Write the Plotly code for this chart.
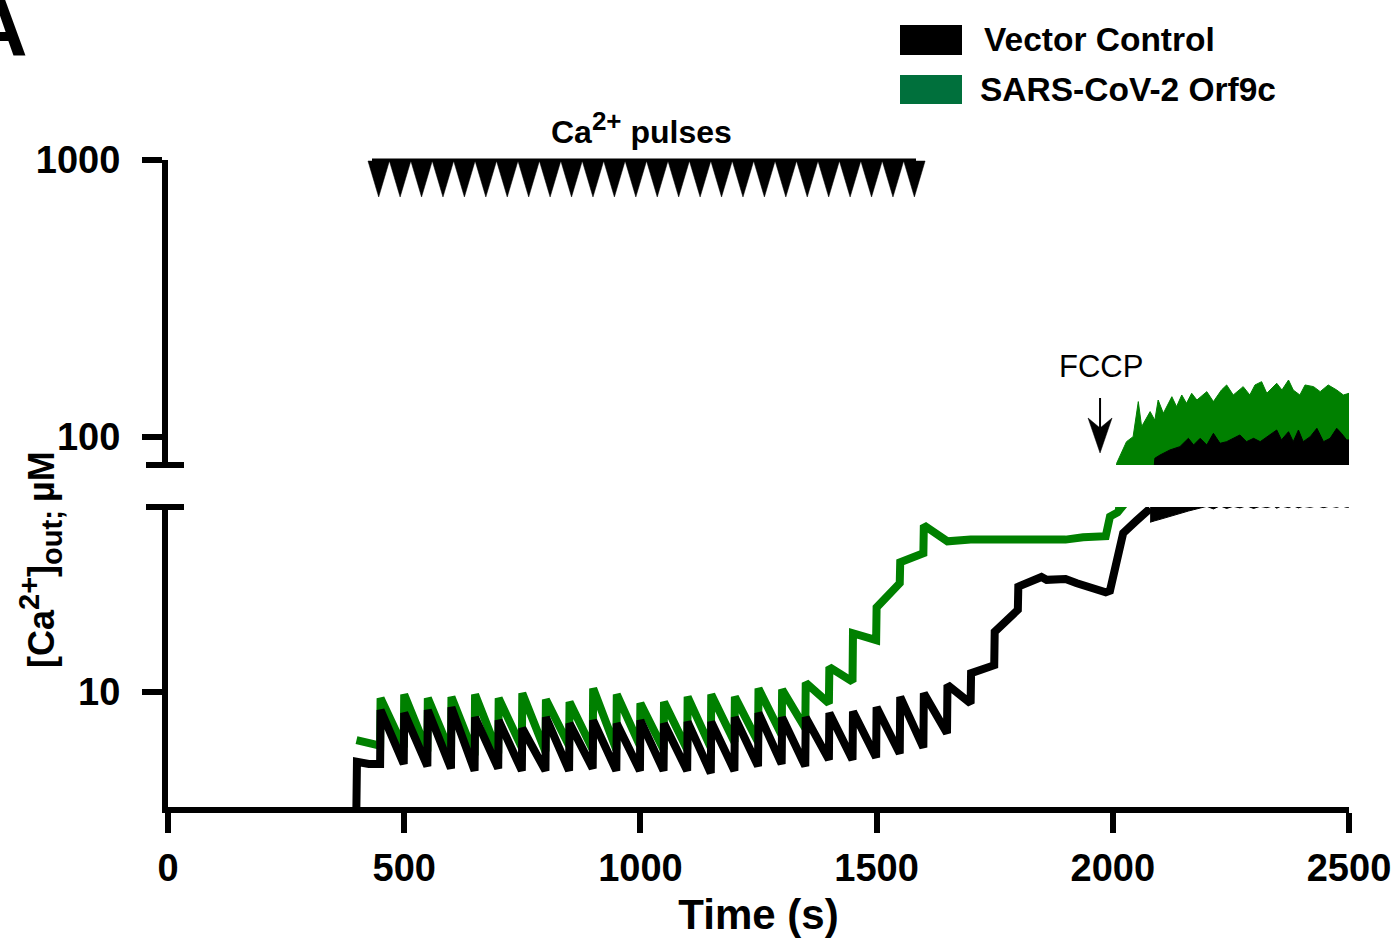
import plotly.graph_objects as go

# ---------------------------------------------------------------------------
# Extracellular Ca2+ traces (µM) during repeated Ca2+ pulses and after FCCP
# ---------------------------------------------------------------------------
pulse_t = [450, 500, 550, 600, 650, 700, 750, 800, 850, 900, 950, 1000, 1050, 1100,
           1150, 1200, 1250, 1300, 1350, 1400, 1450, 1500, 1550, 1600, 1650, 1700,
           1750, 1800]

# level right after each pulse / level just before the following pulse
vc_peak = [8.6, 8.4, 8.6, 8.8, 8.1, 7.9, 7.4, 8.1, 7.7, 7.9, 7.7, 7.9, 7.7, 7.8,
           7.8, 8.1, 8.4, 8.1, 8.1, 8.4, 8.5, 8.8, 9.6, 9.9, 10.6, 11.7, 16.5, 24.0]
vc_trough = [5.5, 5.4, 5.3, 5.2, 5.3, 5.2, 5.2, 5.2, 5.3, 5.2, 5.2, 5.2, 5.2, 5.1,
             5.2, 5.4, 5.5, 5.4, 5.7, 5.7, 5.8, 6.0, 6.3, 7.1, 9.1, 12.5, 19.8, 26.0]
orf_peak = [9.5, 9.8, 9.5, 9.6, 9.8, 9.5, 9.9, 9.4, 9.2, 10.3, 9.8, 9.1, 9.2, 9.6,
            9.8, 9.6, 10.3, 10.2, 10.8, 12.3, 16.3, 20.2, 29.4, 40.0, 35.0, 35.5,
            35.5, 35.8]
orf_trough = [6.3, 6.1, 6.0, 5.9, 6.0, 6.3, 6.1, 6.4, 6.2, 6.2, 6.4, 6.2, 6.2, 6.3,
              6.6, 6.6, 7.0, 7.4, 9.1, 10.9, 15.4, 24.7, 31.7, 35.0, 35.5, 35.5,
              35.8, 36.0]

# baseline before the first pulse
vc_pre_t = [398, 400, 425, 449]
vc_pre = [3.0, 5.6, 5.5, 5.5]
orf_pre_t = [399, 420, 449]
orf_pre = [6.7, 6.6, 6.4]

# after the last pulse, up to FCCP addition
vc_tail_t = [1860, 1900, 1924, 1960, 1985, 1994, 2005, 2022, 2051, 2079]
vc_tail = [25.4, 25.6, 24.7, 23.8, 22.9, 23.2, 28.2, 37.5, 41.7, 46.0]
orf_tail_t = [1850, 1900, 1937, 1985, 1994, 2010, 2030]
orf_tail = [35.8, 35.5, 36.2, 36.5, 43.0, 44.5, 49.0]

# post-FCCP noisy release: lower / upper envelope
vc_band_t = [2079, 2089, 2100, 2121, 2142, 2160, 2171, 2185, 2199, 2213, 2227, 2241,
             2255, 2269, 2283, 2298, 2312, 2326, 2340, 2347, 2357, 2372, 2382, 2393,
             2403, 2418, 2432, 2446, 2460, 2474, 2484, 2495, 2500]
vc_band_hi = [50, 83.8, 86.1, 89.8, 92.3, 98.9, 93.6, 98.9, 93.6, 103.1, 94.9, 96.2,
              98.9, 101.7, 96.2, 98.9, 96.2, 100.3, 104.5, 106, 97.6, 104.5, 96.2, 106,
              96.2, 100.3, 107.5, 96.2, 98.9, 107.5, 103.1, 97.6, 97.6]
vc_band_lo = [41, 41.5, 42, 43, 44, 45, 45.5, 46, 46.8, 45.8, 47, 46, 46.8, 46.2, 47,
              46, 46.8, 46.3, 47, 46.1, 46.9, 46.3, 47, 46.2, 46.8, 46.4, 47, 46.3,
              46.9, 46.4, 47, 46.4, 46.5]

orf_band_t = [2005, 2008, 2029, 2043, 2054, 2061, 2079, 2089, 2096, 2107, 2125, 2135,
              2146, 2156, 2167, 2178, 2199, 2213, 2230, 2241, 2255, 2276, 2290, 2301,
              2315, 2326, 2347, 2358, 2372, 2382, 2396, 2407, 2425, 2439, 2456, 2474,
              2488, 2500]
orf_band_hi = [48, 80.3, 96.2, 100.3, 134.2, 109, 123.5, 115, 136, 121.8, 139.8, 128.7,
               141.8, 132.3, 143.8, 136, 145.8, 134.2, 147.8, 154.1, 141.8, 152, 141.8,
               154.1, 158.4, 143.8, 156.3, 147.8, 160.6, 147.8, 141.8, 154.1, 152,
               145.8, 154.1, 147.8, 141.8, 143.8]
orf_band_lo = [44, 47, 60, 62, 64, 66, 68, 70, 70, 70, 70, 70, 70, 70, 70, 70, 70, 70,
               70, 70, 70, 70, 70, 70, 70, 70, 70, 70, 70, 70, 70, 70, 70, 70, 70, 70,
               70, 70]

series_names = ["Vector Control", "SARS-CoV-2 Orf9c"]
TRACE_BLACK = "#000000"
TRACE_GREEN = "#008000"
LEGEND_GREEN = "#00703C"

n_markers = 26          # arrowheads in the pulse bar
marker_span = (446, 1580)
fccp_t = 1973

# ---------------------------------------------------------------------------
W, H = 1392, 942
ML, MR, MT, MB = 168, 43, 160, 135
PW, PH = W - ML - MR, H - MT - MB


def px_x(px):
    return (px - ML) / PW


def px_y(py):
    return (H - MB - py) / PH


def build_path(pre_t, pre_v, peaks, troughs, tail_t, tail_v):
    xs, ys = list(pre_t), list(pre_v)
    for i, t in enumerate(pulse_t):
        xs.append(t)
        ys.append(peaks[i])
        nxt = pulse_t[i + 1] if i + 1 < len(pulse_t) else t + 50
        xs.append(nxt - 1)
        ys.append(troughs[i])
    xs += tail_t
    ys += tail_v
    return xs, ys


vc_x, vc_y = build_path(vc_pre_t, vc_pre, vc_peak, vc_trough, vc_tail_t, vc_tail)
orf_x, orf_y = build_path(orf_pre_t, orf_pre, orf_peak, orf_trough, orf_tail_t, orf_tail)

fig = go.Figure()

LW = 8
for yax in ("y", "y2"):
    # Orf9c first so the control trace sits on top
    fig.add_trace(go.Scatter(x=orf_x, y=orf_y, mode="lines", yaxis=yax,
                             line=dict(color=TRACE_GREEN, width=LW), showlegend=False,
                             hoverinfo="skip"))
    fig.add_trace(go.Scatter(x=orf_band_t + orf_band_t[::-1],
                             y=orf_band_hi + orf_band_lo[::-1], yaxis=yax,
                             mode="lines", fill="toself", fillcolor=TRACE_GREEN,
                             line=dict(color=TRACE_GREEN, width=1), showlegend=False,
                             hoverinfo="skip"))
for yax in ("y", "y2"):
    fig.add_trace(go.Scatter(x=vc_x, y=vc_y, mode="lines", yaxis=yax,
                             line=dict(color=TRACE_BLACK, width=LW), showlegend=False,
                             hoverinfo="skip"))
    fig.add_trace(go.Scatter(x=vc_band_t + vc_band_t[::-1],
                             y=vc_band_hi + vc_band_lo[::-1], yaxis=yax,
                             mode="lines", fill="toself", fillcolor=TRACE_BLACK,
                             line=dict(color=TRACE_BLACK, width=1), showlegend=False,
                             hoverinfo="skip"))

FONT = "Liberation Sans, Arial, Helvetica, sans-serif"
tickfont = dict(family=FONT, size=38, color="black", weight="bold")
axis_common = dict(showline=True, linewidth=6, linecolor="black", ticks="outside",
                   ticklen=20, tickwidth=6, tickcolor="black", showgrid=False,
                   zeroline=False, tickfont=tickfont, ticklabeloverflow="allow",
                   automargin=False)

low_dom = (0, (H - MB - 507) / PH)
up_dom = ((H - MB - 465) / PH, 1)
decade = 277.0

fig.update_layout(
    width=W, height=H, margin=dict(l=ML, r=MR, t=MT, b=MB, autoexpand=False),
    paper_bgcolor="white", plot_bgcolor="white",
    xaxis=dict(range=[0, 2500], tickvals=[0, 500, 1000, 1500, 2000, 2500],
               anchor="y", ticklabelstandoff=2,
               title=dict(text="Time (s)", standoff=14,
                          font=dict(family=FONT, size=42, color="black", weight="bold")),
               **axis_common),
    yaxis=dict(type="log", domain=list(low_dom),
               range=[1 - (H - MB - 692) / decade, 1 + (692 - 507) / decade],
               tickvals=[10], ticktext=["10"], anchor="x", ticklabelstandoff=14,
               **axis_common),
    yaxis2=dict(type="log", domain=list(up_dom),
                range=[2 - (465 - 437) / decade, 3],
                tickvals=[100, 1000], ticktext=["100", "1000"], anchor="x",
                ticklabelstandoff=14, **axis_common),
    showlegend=False,
)

shapes = []
annotations = []

# axis break caps
for py in (465, 507):
    shapes.append(dict(type="line", xref="paper", yref="paper",
                       x0=px_x(146), x1=px_x(184), y0=px_y(py), y1=px_y(py),
                       line=dict(color="black", width=6)))

# Ca2+ pulse bar with arrowheads
shapes.append(dict(type="line", xref="x", yref="paper",
                   x0=(372 - ML) / PW * 2500, x1=(916 - ML) / PW * 2500,
                   y0=px_y(160), y1=px_y(160), line=dict(color="black", width=3)))
step = (marker_span[1] - marker_span[0]) / (n_markers - 1)
hw = 10.7 / PW * 2500
for k in range(n_markers):
    c = marker_span[0] + k * step
    path = (f"M {c - hw},{px_y(161)} L {c + hw},{px_y(161)} "
            f"L {c},{px_y(197)} Z")
    shapes.append(dict(type="path", xref="x", yref="paper", path=path,
                       fillcolor="black", line=dict(color="black", width=0.5)))
annotations.append(dict(text="Ca<sup><span style='font-size:26px'>2+</span></sup> pulses",
                        xref="paper", yref="paper",
                        x=px_x(641), y=px_y(152), xanchor="center", yanchor="bottom",
                        showarrow=False,
                        font=dict(family=FONT, size=32, color="black", weight="bold")))

# FCCP marker
annotations.append(dict(text="FCCP", xref="x", yref="paper", x=fccp_t + 2,
                        y=px_y(366), xanchor="center", yanchor="middle",
                        showarrow=False,
                        font=dict(family=FONT, size=31, color="black")))
shapes.append(dict(type="line", xref="x", yref="paper", x0=fccp_t, x1=fccp_t,
                   y0=px_y(398), y1=px_y(430), line=dict(color="black", width=2)))
dx = 12 / PW * 2500
shapes.append(dict(type="path", xref="x", yref="paper",
                   path=(f"M {fccp_t},{px_y(453)} L {fccp_t - dx},{px_y(418)} "
                         f"L {fccp_t},{px_y(428)} L {fccp_t + dx},{px_y(418)} Z"),
                   fillcolor="black", line=dict(color="black", width=0.5)))

# legend boxes
for (y0, y1, col, name, tx) in [(25, 55, TRACE_BLACK, series_names[0], 982),
                                 (75, 104, LEGEND_GREEN, series_names[1], 978)]:
    shapes.append(dict(type="rect", xref="paper", yref="paper",
                       x0=px_x(900), x1=px_x(962), y0=px_y(y1), y1=px_y(y0),
                       fillcolor=col, line=dict(width=0)))
    annotations.append(dict(text=name, xref="paper", yref="paper", x=px_x(tx),
                            y=px_y((y0 + y1) / 2), xanchor="left", yanchor="middle",
                            showarrow=False,
                            font=dict(family=FONT, size=33.5, color="black",
                                      weight="bold")))

# y-axis title
annotations.append(dict(text=("[Ca<sup><span style='font-size:29px'>2+</span></sup>]"
                              "<sub><span style='font-size:29px'>out; </span></sub>µM"),
                        xref="paper",
                        yref="paper", x=px_x(40), y=px_y(560), xanchor="center",
                        yanchor="middle", textangle=-90, showarrow=False,
                        font=dict(family=FONT, size=36, color="black", weight="bold")))

# panel letter
annotations.append(dict(text="A", xref="paper", yref="paper", x=px_x(30),
                        y=px_y(-22), xanchor="right", yanchor="top", showarrow=False,
                        font=dict(family=FONT, size=84, color="black", weight="bold")))

fig.update_layout(shapes=shapes, annotations=annotations)
fig.write_html("out.html")
